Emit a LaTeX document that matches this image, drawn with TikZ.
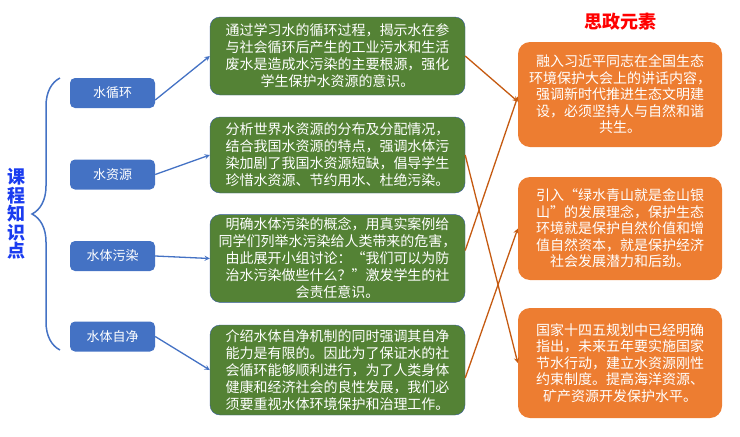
\documentclass[tikz,border=0pt]{standalone}
\usepackage{fontspec}
\usepackage{tikz}
\newfontfamily\cjk{Noto Sans CJK SC}
\definecolor{topicblue}{HTML}{4472C4}
\definecolor{aimgreen}{HTML}{548235}
\definecolor{valueorange}{HTML}{ED7D31}
\definecolor{linkorange}{HTML}{C55A11}
\definecolor{titleblue}{HTML}{1A3CF0}
\usetikzlibrary{positioning, arrows, decorations.pathreplacing, shapes}
\tikzstyle{arrow} = [thick,->,>=stealth]

\begin{document}
\begin{tikzpicture}[x=1pt,y=-1pt]
                    \tikzstyle{every node}=[font=\cjk] \tikzstyle{topic} =
                    [rectangle, rounded corners=5pt, fill=topicblue, text=white,
                    minimum width=85pt, minimum height=30pt, font=\cjk\fontsize{13}{15}\selectfont]
                    \tikzstyle{aim} = [rectangle, rounded corners=10pt, draw=topicblue!80!black,
                    fill=aimgreen, text=white, minimum width=255pt, align=center,
                    font=\cjk\fontsize{14}{17}\selectfont]
                    \tikzstyle{value} = [rectangle, rounded corners=12pt, fill=valueorange,
                    text=white, minimum width=204pt, align=center,
                    font=\cjk\fontsize{14}{16.5}\selectfont]
                    \tikzstyle{blueedge} = [arrow, draw=topicblue, line width=1.3pt]
                    \tikzstyle{orangeedge} = [arrow, draw=linkorange, line width=1.3pt]

                    \useasboundingbox (0,0) rectangle (740,437);

                    \node[text=titleblue, align=center, font=\cjk\bfseries\fontsize{18}{18.5}\selectfont]
                    (course) at (17,214) {课\\程\\知\\识\\点};
                    \draw[topicblue, line width=1.5pt, decorate, decoration={brace, amplitude=28pt}]
                    (60,350) -- (60,78);

                    \node[topic](t1) at (112.5,93) {水循环};
                    \node[topic](t2) at (112.5,174.5) {水资源};
                    \node[topic](t3) at (112.5,256) {水体污染};
                    \node[topic](t4) at (112.5,336.5) {水体自净};

                    \node[aim, minimum height=78pt](a1) at (337.5,56) {通过学习水的循环过程，揭示水在参\\与社会循环后产生的工业污水和生活\\废水是造成水污染的主要根源，强化\\学生保护水资源的意识。};
                    \node[aim, minimum height=76pt](a2) at (337.5,155) {分析世界水资源的分布及分配情况，\\结合我国水资源的特点，强调水体污\\染加剧了我国水资源短缺，倡导学生\\珍惜水资源、节约用水、杜绝污染。};
                    \node[aim, minimum height=87pt](a3) at (337.5,258.5) {明确水体污染的概念，用真实案例给\\同学们列举水污染给人类带来的危害，\\由此展开小组讨论：“我们可以为防\\治水污染做些什么？”激发学生的社\\会责任意识。};
                    \node[aim, minimum height=90pt](a4) at (337.5,370) {介绍水体自净机制的同时强调其自净\\能力是有限的。因此为了保证水的社\\会循环能够顺利进行，为了人类身体\\健康和经济社会的良性发展，我们必\\须要重视水体环境保护和治理工作。};

                    \node[text=red, font=\cjk\bfseries\fontsize{18}{20}\selectfont](head) at (620,22) {思政元素};
                    \node[value, minimum height=105pt](v1) at (620,94.5) {融入习近平同志在全国生态\\环境保护大会上的讲话内容，\\强调新时代推进生态文明建\\设，必须坚持人与自然和谐\\共生。};
                    \node[value, minimum height=103pt](v2) at (620,228.5) {引入“绿水青山就是金山银\\山”的发展理念，保护生态\\环境就是保护自然价值和增\\值自然资本，就是保护经济\\社会发展潜力和后劲。};
                    \node[value, minimum height=110pt](v3) at (620,363) {国家十四五规划中已经明确\\指出，未来五年要实施国家\\节水行动，建立水资源刚性\\约束制度。提高海洋资源、\\矿产资源开发保护水平。};

                    \draw[blueedge] ([yshift=-7pt]t1.east) -- (a1.west);
                    \draw[blueedge] (t2.east) -- (a2.west);
                    \draw[blueedge] (t3.east) -- (a3.west);
                    \draw[blueedge] (t4.east) -- (a4.west);

                    \draw[orangeedge] (a1.east) -- ([yshift=-7pt]v1.west);
                    \draw[orangeedge] (a2.east) -- (v3.west);
                    \draw[orangeedge] ([yshift=8pt]a3.east) -- ([yshift=-2pt]v1.west);
                    \draw[orangeedge] ([yshift=-8pt]a4.east) -- (v2.west);
            \end{tikzpicture}
\end{document}
